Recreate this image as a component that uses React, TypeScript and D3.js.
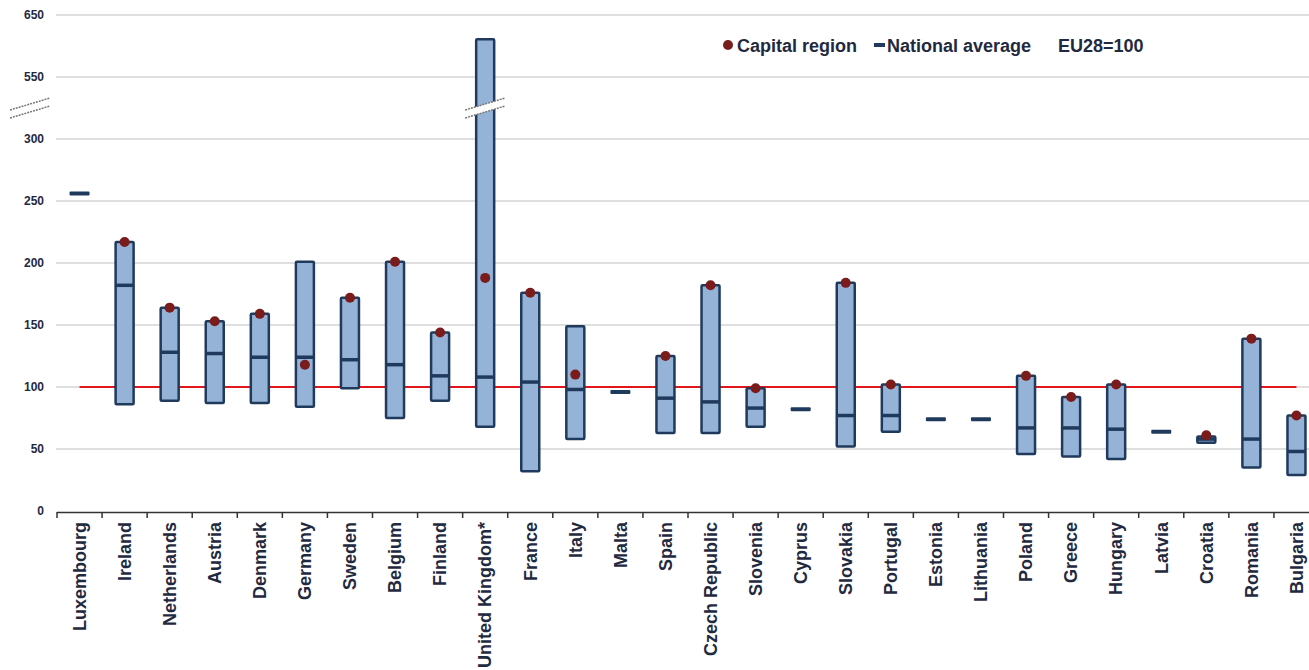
import * as d3 from "d3";
import React from "react";

const countries = [
  "Luxembourg", "Ireland", "Netherlands", "Austria", "Denmark", "Germany", "Sweden",
  "Belgium", "Finland", "United Kingdom*", "France", "Italy", "Malta", "Spain",
  "Czech Republic", "Slovenia", "Cyprus", "Slovakia", "Portugal", "Estonia",
  "Lithuania", "Poland", "Greece", "Hungary", "Latvia", "Croatia", "Romania", "Bulgaria",
];
// highest / lowest region in each country (null = one region only)
const regionMax = [null, 217, 164, 153, 159, 201, 172, 201, 144, 611, 176, 149, null, 125,
  182, 99, null, 184, 102, null, null, 109, 92, 102, null, 60, 139, 77];
const regionMin = [null, 86, 89, 87, 87, 84, 99, 75, 89, 68, 32, 58, null, 63,
  63, 68, null, 52, 64, null, null, 46, 44, 42, null, 55, 35, 29];
const nationalAvg = [256, 182, 128, 127, 124, 124, 122, 118, 109, 108, 104, 98, 96, 91,
  88, 83, 82, 77, 77, 74, 74, 67, 67, 66, 64, 58, 58, 48];
const capitalRegion = [null, 217, 164, 153, 159, 118, 172, 201, 144, 188, 176, 110, null, 125,
  182, 99, null, 184, 102, null, null, 109, 92, 102, null, 61, 139, 77];
const yTicks = [0, 50, 100, 150, 200, 250, 300, 550, 650];
const euAverage = 100;

const W = 1309;
const H = 670;
const FONT = "'Liberation Sans', Arial, sans-serif";
const TEXT = "#1f2a40";
const BAR_FILL = "#95b3d7";
const BAR_STROKE = "#1f3a5c";
const DOT = "#7a1c1c";

export default function App() {
  // broken axis: 0-300 normal, 300-550 squeezed, 550-650 on top
  const yScale = d3.scaleLinear().domain([0, 300, 550, 650]).range([511, 139, 77, 15]);
  const xScale = d3.scaleBand().domain(countries).range([57, 1319]);
  const bw = 18;
  const cx = (c: string) => (xScale(c) as number) + xScale.bandwidth() / 2;

  const breakY = yScale(425);
  const ukX = cx("United Kingdom*");
  const breakMark = (x0: number, x1: number, yc: number) => {
    const dy = ((x1 - x0) * 12) / 40 / 2;
    return (
      <g>
        <polygon
          points={`${x0},${yc + dy - 4} ${x1},${yc - dy - 4} ${x1},${yc - dy + 4} ${x0},${yc + dy + 4}`}
          fill="#fff"
        />
        <line x1={x0} y1={yc + dy - 4} x2={x1} y2={yc - dy - 4} stroke="#777" strokeWidth={1.5} strokeDasharray="2 1" />
        <line x1={x0} y1={yc + dy + 4} x2={x1} y2={yc - dy + 4} stroke="#777" strokeWidth={1.5} strokeDasharray="2 1" />
      </g>
    );
  };

  return (
    <svg
      width={W}
      height={H}
      style={{ position: "absolute", left: 0, top: 0, background: "#fff" }}
      fontFamily={FONT}
    >
      {/* gridlines + y labels */}
      {yTicks.map((t) => (
        <g key={t}>
          {t > 0 && (
            <line x1={56} x2={W} y1={yScale(t)} y2={yScale(t)} stroke="#d4d4d4" strokeWidth={1.5} />
          )}
          <text x={44} y={yScale(t)} dy="0.35em" textAnchor="end" fontSize={12} fontWeight="bold" fill={TEXT}>
            {t}
          </text>
        </g>
      ))}

      {/* EU average line */}
      <line
        x1={cx(countries[0])}
        x2={cx(countries[countries.length - 1])}
        y1={yScale(euAverage)}
        y2={yScale(euAverage)}
        stroke="#e0161b"
        strokeWidth={2}
      />

      {/* bars */}
      {countries.map((c, i) => {
        const x = cx(c);
        const hi = regionMax[i];
        const lo = regionMin[i];
        const cap = capitalRegion[i];
        const nat = nationalAvg[i];
        return (
          <g key={c}>
            {hi != null && lo != null && (
              <rect
                x={x - bw / 2}
                y={yScale(hi)}
                width={bw}
                height={yScale(lo) - yScale(hi)}
                fill={BAR_FILL}
                stroke={BAR_STROKE}
                strokeWidth={2.5}
                rx={1}
              />
            )}
            {hi != null ? (
              <line x1={x - bw / 2} x2={x + bw / 2} y1={yScale(nat)} y2={yScale(nat)} stroke={BAR_STROKE} strokeWidth={3.5} />
            ) : (
              <rect x={x - 10} y={yScale(nat) - 2} width={20} height={4} fill={BAR_STROKE} rx={1} />
            )}
            {cap != null && <circle cx={x} cy={yScale(cap)} r={5} fill={DOT} />}
          </g>
        );
      })}

      {/* axis breaks */}
      {breakMark(10, 50, breakY)}
      {breakMark(ukX - 20, ukX + 20, breakY)}

      {/* x axis */}
      <line x1={57} x2={W} y1={512.5} y2={512.5} stroke="#333" strokeWidth={1.5} />
      {countries.map((c) => (
        <line key={c} x1={xScale(c) as number} x2={xScale(c) as number} y1={512} y2={518} stroke="#333" strokeWidth={1.5} />
      ))}
      {countries.map((c) => (
        <text
          key={c}
          transform={`translate(${cx(c)},522) rotate(-90)`}
          textAnchor="end"
          dy="0.35em"
          fontSize={18}
          fontWeight="bold"
          fill={TEXT}
        >
          {c}
        </text>
      ))}

      {/* legend */}
      <circle cx={728} cy={45} r={5} fill={DOT} />
      <text x={737} y={51.5} fontSize={18} fontWeight="bold" fill={TEXT}>Capital region</text>
      <rect x={874} y={43} width={11} height={4} fill={BAR_STROKE} />
      <text x={887} y={51.5} fontSize={18} fontWeight="bold" fill={TEXT}>National average</text>
      <text x={1058} y={51.5} fontSize={18} fontWeight="bold" fill={TEXT}>EU28=100</text>
    </svg>
  );
}
